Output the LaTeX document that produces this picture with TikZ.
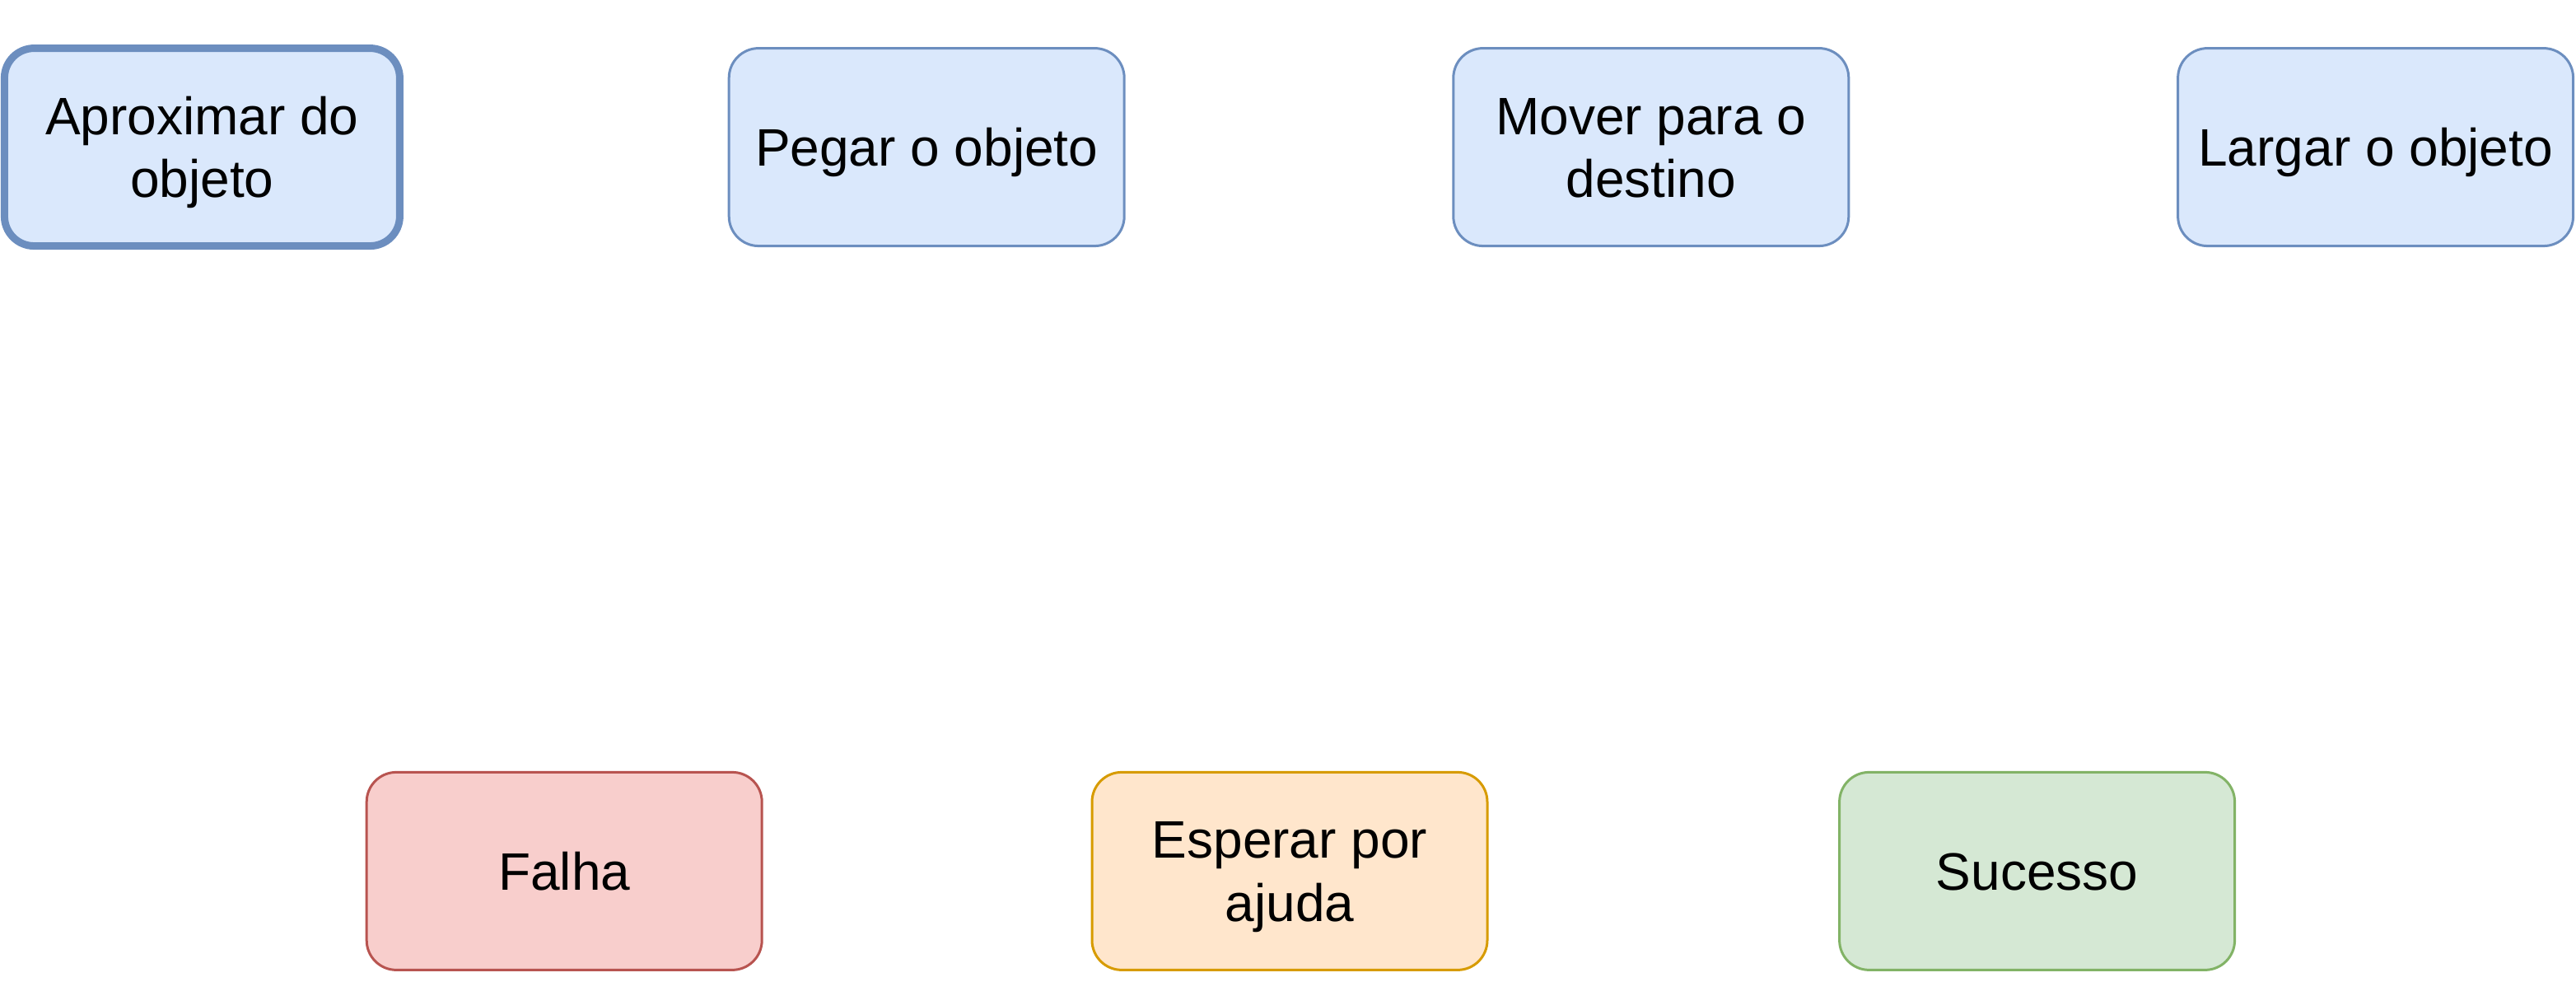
\documentclass[tikz,border=0pt]{standalone}
\usepackage{fontspec}
\setmainfont{Liberation Sans}
\definecolor{bluefill}{HTML}{DAE8FC}
\definecolor{bluedraw}{HTML}{6C8EBF}
\definecolor{redfill}{HTML}{F8CECC}
\definecolor{reddraw}{HTML}{B85450}
\definecolor{orangefill}{HTML}{FFE6CC}
\definecolor{orangedraw}{HTML}{D79B00}
\definecolor{greenfill}{HTML}{D5E8D4}
\definecolor{greendraw}{HTML}{82B366}
\tikzset{
  box/.style={rectangle, rounded corners=18pt, minimum width=240pt, minimum height=120pt,
    inner sep=0pt, text width=240pt, align=flush center, line width=1.5pt,
    font=\fontsize{32pt}{38.4pt}\selectfont, text height=23pt, text depth=0pt},
  twoline/.style={text height=0pt, text depth=15.4pt},
  bluebox/.style={box, draw=bluedraw, fill=bluefill},
  startbox/.style={bluebox, line width=4.5pt},
  redbox/.style={box, draw=reddraw, fill=redfill},
  orangebox/.style={box, draw=orangedraw, fill=orangefill},
  greenbox/.style={box, draw=greendraw, fill=greenfill}
}
\begin{document}
\begin{tikzpicture}[x=1pt,y=1pt]
\useasboundingbox (0,0) rectangle (1564,596);
\node[startbox, twoline] (aprox) at (122.7,506.7) {Aproximar do\\objeto};
\node[bluebox] (pegar) at (562.6,506.7) {Pegar o objeto};
\node[bluebox, twoline] (mover) at (1002.4,506.7) {Mover para o\\destino};
\node[bluebox] (largar) at (1442.3,506.7) {Largar o objeto};
\node[redbox] (falha) at (342.6,67.3) {Falha};
\node[orangebox, twoline] (esperar) at (783,67.3) {Esperar por\\ajuda};
\node[greenbox] (sucesso) at (1236.8,67.3) {Sucesso};
\end{tikzpicture}
\end{document}
